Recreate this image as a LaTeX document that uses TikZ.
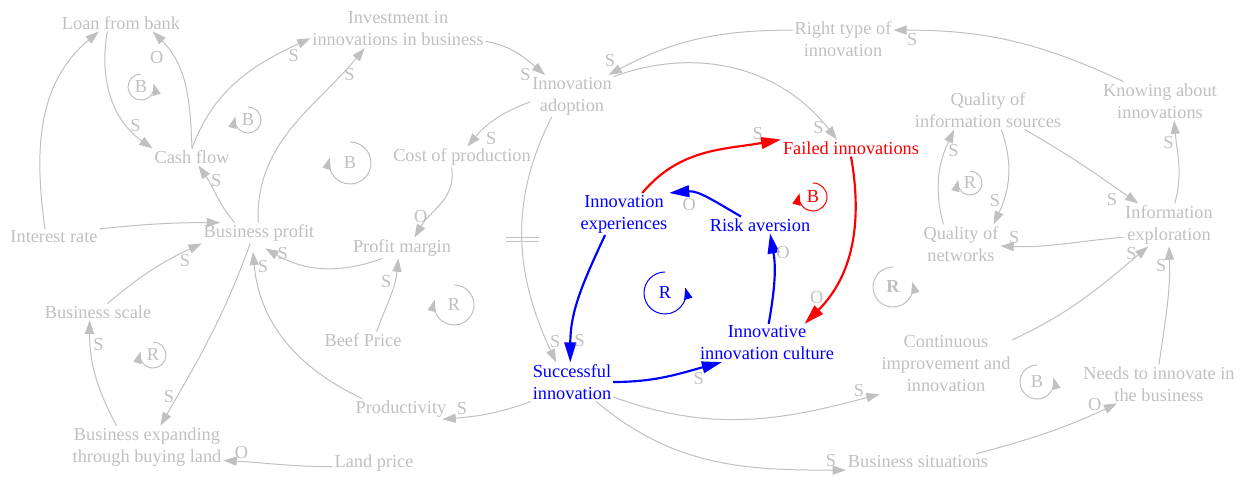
\documentclass[tikz,border=0pt]{standalone}
\usepackage{fontspec}
\setmainfont{Liberation Serif}
\usetikzlibrary{arrows.meta, positioning}
\definecolor{linkgray}{RGB}{192,192,192}
\newcommand{\cldfont}{\fontsize{11}{13.2}\selectfont}
\tikzset{
var/.style={text=linkgray, align=center, font=\cldfont, inner sep=1pt}, % grey variables
bvar/.style={var, text=blue}, % variables of the blue loop
rvar/.style={var, text=red}, % variables of the red loop
link/.style={draw=linkgray, line width=0.6pt, -{Triangle[length=8pt, width=5.5pt]}}, % grey causal links
blink/.style={link, draw=blue, line width=1.3pt, -{Triangle[length=12pt, width=7pt]}}, % blue links
rlink/.style={blink, draw=red}, % red links
pol/.style={text=linkgray, font=\cldfont, inner sep=1.5pt}, % polarity S or O
loopmark/.style={line width=0.6pt, -{Triangle[length=7pt, width=5pt]}}, % loop circles
}
\begin{document}
\begin{tikzpicture}[x=0.6pt, y=0.6pt]
    \useasboundingbox (0,0) rectangle (1243,-481);
    % variables
    \node[var] (loan) at (121,-23) {Loan from bank};
    \node[var] (cash) at (192,-157) {Cash flow};
    \node[var] (interest) at (54,-237) {Interest rate};
    \node[var] (profit) at (259,-233) {Business profit};
    \node[var] (scale) at (98,-312) {Business scale};
    \node[var] (expand) at (147,-447) {Business expanding\\through buying land};
    \node[var] (land) at (374,-463) {Land price};
    \node[var] (beef) at (363,-340) {Beef Price};
    \node[var] (prod) at (401,-409) {Productivity};
    \node[var] (margin) at (402,-248) {Profit margin};
    \node[var] (cost) at (462,-157) {Cost of production};
    \node[var] (invest) at (398,-29) {Investment in\\innovations in business};
    \node[var] (adopt) at (572,-96) {Innovation\\adoption};
    \node[var] (rtype) at (843,-39) {Right type of\\innovation};
    \node[var] (knowing) at (1160,-101) {Knowing about\\innovations};
    \node[var] (qinfo) at (988,-110) {Quality of\\information sources};
    \node[var] (qnet) at (961,-244) {Quality of\\networks};
    \node[var] (explore) at (1169,-225) {Information\\exploration};
    \node[var] (contin) at (946,-364) {Continuous\\improvement and\\innovation};
    \node[var] (needs) at (1159,-384) {Needs to innovate in\\the business};
    \node[var] (situ) at (918,-462) {Business situations};
    \node[rvar] (failed) at (851,-148) {Failed innovations};
    \node[bvar] (exper) at (624,-214) {Innovation\\experiences};
    \node[bvar] (risk) at (760,-225) {Risk aversion};
    \node[bvar] (success) at (572,-382) {Successful\\innovation};
    \node[bvar] (culture) at (767,-343) {Innovative\\innovation culture};

    % grey links
    \draw[link] (loan.-148) to[out=-100, in=145] node[pol, pos=.75, right]{S} (cash.north west);
    \draw[link] (cash.north) to[out=92, in=-45] node[pol, pos=.75, left=4pt]{O} (loan.-15);
    \draw[link] (interest.138) to[out=98, in=-140] (loan.-159);
    \draw[link] (interest.north east) to[out=6, in=180] (profit.165);
    \draw[link] (profit.157) to[out=130, in=-55] node[pol, pos=.75, right]{S} (cash.-53);
    \draw[link] (cash.north) to[out=70, in=-155] node[pol, pos=.9, below]{S} (invest.186);
    \draw[link] (profit.95) to[out=92, in=-130] node[pol, pos=.85, right]{S} (invest.210);
    \draw[link] (invest.-8) to[out=-10, in=140] node[pol, pos=.8, below left]{S} (adopt.142);
    \draw[link] (adopt.-172) to[out=200, in=50] node[pol, pos=.72, below right]{S} (cost.63);
    \draw[link] (cost.-135) to[out=-80, in=60] node[pol, pos=.7, left]{O} (margin.40);
    \draw[link] (margin.-152) to[out=200, in=-30] node[pol, pos=.85, above=-3pt]{S} ([yshift=-3]profit.-59);
    \draw[link] (beef.32) to[out=70, in=-95] node[pol, pos=.7, left]{S} (margin.-110);
    \draw[link] (prod.165) to[out=155, in=-85] node[pol, pos=.93, right]{S} ([yshift=-5]profit.-120);
    \draw[link] (profit.-130) to[out=-110, in=60] node[pol, pos=.85, left]{S} (expand.58);
    \draw[link] (expand.145) to[out=118, in=-90] node[pol, pos=.8, right]{S} (scale.-135);
    \draw[link] (scale.42) to[out=40, in=-155] node[pol, pos=.85, below]{S} (profit.south west);
    \draw[link] (land.-175) to[out=180, in=-3] node[pol, pos=.85, above]{O} (expand.-10);
    \draw[link] (adopt.-134) to[out=-117, in=115] coordinate[pos=.5] (delay) node[pol, pos=.92, right]{S} (success.129);
    \draw[linkgray, line width=0.6pt] ([shift={(-16,2)}]delay) -- ++(33,0) ([shift={(-16,-2.5)}]delay) -- ++(33,0);
    \draw[link] (success.south west) to[out=200, in=5] node[pol, pos=.8, above]{S} (prod.-14);
    \draw[link] (adopt.25) to[out=20, in=128] node[pol, pos=.94, left]{S} (failed.149);
    \draw[link] (rtype.170) to[out=180, in=28] node[pol, pos=.95, above left]{S} (adopt.30);
    \draw[link] (knowing.152) to[out=155, in=0] node[pol, pos=.93, below]{S} (rtype.10);
    \draw[link] (explore.75) to[out=75, in=-85] node[pol, pos=.75, left]{S} (knowing.-54);
    \draw[link] (qinfo.-28) to[out=-30, in=145] node[pol, pos=.85, below left]{S} (explore.145);
    \draw[link] (qinfo.-56) to[out=-70, in=65] node[pol, pos=.75, left]{S} (qnet.31);
    \draw[link] (qnet.132) to[out=105, in=-115] node[pol, pos=.78, right]{S} (qinfo.-150);
    \draw[link] (explore.195) to[out=185, in=-2] node[pol, pos=.9, above]{S} (qnet.-3);
    \draw[link] (contin.20) to[out=25, in=-140] node[pol, pos=.94, left]{S} (explore.-134);
    \draw[link] (needs.north) to[out=82, in=-88] node[pol, pos=.85, left]{S} (explore.south);
    \draw[link] (success.-20) to[out=-20, in=-165] node[pol, pos=.93, above]{S} (contin.south west);
    \draw[link] (success.-39) to[out=-40, in=180] node[pol, pos=.95, above]{S} (situ.south west);
    \draw[link] (situ.8) to[out=15, in=-155] node[pol, pos=.85, above]{O} (needs.-155);

    % red and blue loop
    \draw[rlink] (exper.49) to[out=50, in=-170] node[pol, pos=.86, above]{S} (failed.north west);
    \draw[rlink] (failed.south) to[out=-80, in=45] node[pol, pos=.82, left]{O} (culture.27);
    \draw[blink] (risk.156) to[out=150, in=5] node[pol, pos=.75, below=1pt]{O} (exper.north east);
    \draw[blink] (culture.85) to[out=80, in=-80] node[pol, pos=.8, right]{O} (risk.-40);
    \draw[blink] (exper.-132) to[out=-115, in=90] node[pol, pos=.85, right]{S} (success.95);
    \draw[blink] (success.east) to[out=0, in=-165] node[pol, pos=.8, below]{S} (culture.-157);

    % loop markers
    \foreach \x/\y/\r/\l [count=\i] in {248/-120/13/B, 350/-163/21/B, 454/-305/20/R, 153/-355/13/R, 970/-183/12/R}{
        \draw[loopmark, linkgray] (\x,\y) ++(90:\r) arc (90:-195:\r);
        \node[pol] (cw\i) at (\x,\y) {\l};
    }
    \foreach \x/\y/\r/\l [count=\i] in {141/-87/13/B, 1037/-382/17/B}{
        \draw[loopmark, linkgray] (\x,\y) ++(90:\r) arc (90:375:\r);
        \node[pol] (ccw\i) at (\x,\y) {\l};
    }
    \draw[loopmark, linkgray] (893,-287) ++(90:20) arc (90:375:20);
    \node[pol, font=\cldfont\bfseries] (rbold) at (893,-287) {R};
    \draw[loopmark, blue] (665,-293) ++(90:21) arc (90:375:21);
    \node[bvar] (rblue) at (665,-293) {R};
    \draw[loopmark, red] (813,-197) ++(90:14) arc (90:-195:14);
    \node[rvar] (bred) at (813,-197) {B};
\end{tikzpicture}
\end{document}
